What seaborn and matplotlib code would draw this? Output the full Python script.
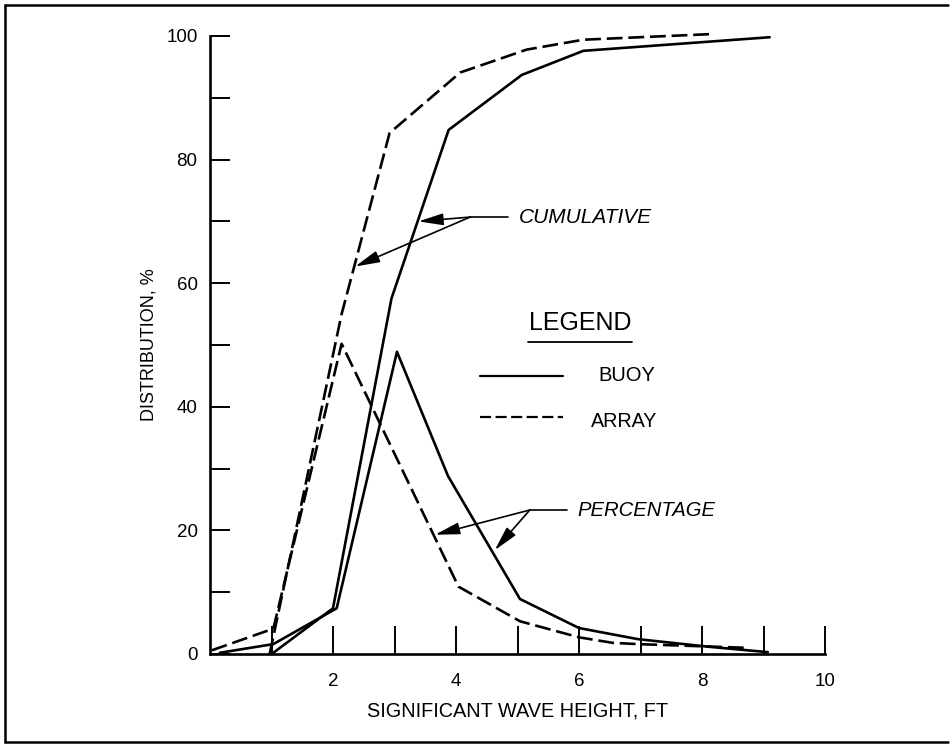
import matplotlib
matplotlib.use("Agg")
import matplotlib.pyplot as plt
import seaborn as sns
import pandas as pd
from matplotlib.lines import Line2D

# Significant wave height (ft) and distribution (%) for each series
buoy_pct_x = [0.16, 1.03, 2.06, 3.04, 3.87, 5.04, 6.00, 6.96, 8.08, 9.07]
buoy_pct_y = [0.2, 1.6, 7.4, 48.9, 28.8, 8.9, 4.2, 2.4, 1.2, 0.3]

buoy_cum_x = [1.03, 2.00, 2.95, 3.88, 5.07, 6.07, 9.10]
buoy_cum_y = [0.2, 7.4, 57.5, 84.8, 93.7, 97.6, 99.8]

array_pct_x = [0.03, 1.03, 2.14, 4.04, 5.04, 6.00, 6.55, 6.96, 8.73]
array_pct_y = [0.6, 4.1, 50.2, 10.9, 5.3, 2.7, 1.8, 1.6, 1.0]

array_cum_x = [0.97, 2.14, 2.92, 4.07, 5.15, 6.07, 8.13]
array_cum_y = [0.0, 55.0, 84.3, 94.1, 97.8, 99.4, 100.3]

x_major = [2, 4, 6, 8, 10]
x_minor = [1, 3, 5, 7, 9]
y_major = [0, 20, 40, 60, 80, 100]
y_minor = [10, 30, 50, 70, 90]

x_label = "SIGNIFICANT WAVE HEIGHT, FT"
y_label = "DISTRIBUTION, %"

sns.set_theme(style="white")
plt.rcParams["font.family"] = ["Liberation Sans", "DejaVu Sans"]

fig = plt.figure(figsize=(9.52, 7.46), dpi=100)
ax = fig.add_axes([210 / 952, 92 / 746, 615 / 952, 618 / 746])

LW = 1.9
DASH = (0, (6, 2.2))

series = [
    (buoy_pct_x, buoy_pct_y, "-"),
    (buoy_cum_x, buoy_cum_y, "-"),
    (array_pct_x, array_pct_y, DASH),
    (array_cum_x, array_cum_y, DASH),
]
for xs, ys, ls in series:
    df = pd.DataFrame({"h": xs, "d": ys})
    sns.lineplot(data=df, x="h", y="d", ax=ax, color="black", lw=LW,
                 linestyle=ls, sort=False, estimator=None, clip_on=False)

ax.set_xlim(0, 10)
ax.set_ylim(0, 100)
for s in ["top", "right"]:
    ax.spines[s].set_visible(False)
for s in ["left", "bottom"]:
    ax.spines[s].set_color("black")
    ax.spines[s].set_linewidth(1.9)

ax.set_xticks(x_major)
ax.set_xticks(x_minor, minor=True)
ax.set_xticklabels([str(v) for v in x_major])
ax.set_yticks(y_major)
ax.set_yticks(y_minor, minor=True)
ax.set_yticklabels([str(v) for v in y_major])

ax.tick_params(axis="x", which="both", direction="in", length=20, width=1.4,
               color="black", pad=14, labelsize=13.5, labelcolor="black",
               bottom=True, top=False)
ax.tick_params(axis="y", which="both", direction="in", length=14.5, width=1.4,
               color="black", pad=9, labelsize=13.5, labelcolor="black",
               left=True, right=False)

ax.set_xlabel(x_label, fontsize=14.3, labelpad=8, color="black")
ax.set_ylabel(y_label, fontsize=13, labelpad=6, color="black")
ax.grid(False)

# Call-out leaders
arrow_kw = dict(arrowstyle="-|>,head_length=0.75,head_width=0.18",
                color="black", lw=1.2, shrinkA=0, shrinkB=0, mutation_scale=20)

ax.plot([4.85, 4.23], [70.7, 70.7], color="black", lw=1.2)
ax.annotate("", xy=(3.39, 70.0), xytext=(4.23, 70.7), arrowprops=arrow_kw)
ax.annotate("", xy=(2.36, 62.7), xytext=(4.23, 70.7), arrowprops=arrow_kw)
ax.text(5.02, 70.6, "CUMULATIVE", fontsize=15, style="italic",
        ha="left", va="center", color="black")

ax.plot([5.80, 5.20], [23.3, 23.3], color="black", lw=1.2)
ax.annotate("", xy=(3.66, 19.3), xytext=(5.20, 23.3), arrowprops=arrow_kw)
ax.annotate("", xy=(4.63, 16.8), xytext=(5.20, 23.3), arrowprops=arrow_kw)
ax.text(5.98, 23.2, "PERCENTAGE", fontsize=14.6, style="italic",
        ha="left", va="center", color="black")

# Key
ax.text(6.02, 53.6, "LEGEND", fontsize=18, ha="center", va="center", color="black")
ax.add_line(Line2D([5.17, 6.86], [50.5, 50.5], color="black", lw=1.3))
ax.add_line(Line2D([4.39, 5.74], [45.0, 45.0], color="black", lw=1.6))
ax.text(6.31, 45.0, "BUOY", fontsize=14.5, ha="left", va="center", color="black")
ax.add_line(Line2D([4.39, 5.74], [38.3, 38.3], color="black", lw=1.6,
                   linestyle=(0, (5, 2))))
ax.text(6.19, 37.6, "ARRAY", fontsize=14.2, ha="left", va="center", color="black")

# Page frame
fig.add_artist(Line2D([5 / 952, 5 / 952], [4 / 746, 741 / 746], color="black",
                      lw=1.8, transform=fig.transFigure))
fig.add_artist(Line2D([5 / 952, 948 / 952], [741 / 746, 741 / 746], color="black",
                      lw=1.8, transform=fig.transFigure))
fig.add_artist(Line2D([5 / 952, 948 / 952], [4 / 746, 4 / 746], color="black",
                      lw=1.8, transform=fig.transFigure))

fig.savefig("out.png", dpi=100, facecolor="white")
